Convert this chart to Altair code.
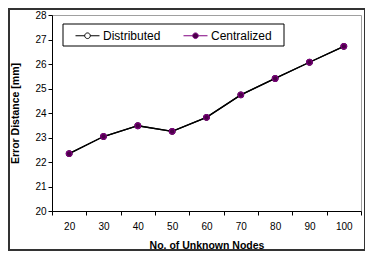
import altair as alt
import pandas as pd

nodes = [20, 30, 40, 50, 60, 70, 80, 90, 100]
distributed = [22.34, 23.04, 23.48, 23.25, 23.82, 24.74, 25.41, 26.07, 26.72]
centralized = [22.34, 23.04, 23.48, 23.25, 23.82, 24.74, 25.41, 26.07, 26.72]
series = ["Distributed", "Centralized"]

rows = []
for n, d in zip(nodes, distributed):
    rows.append({"nodes": n, "value": d, "series": "Distributed"})
for n, c in zip(nodes, centralized):
    rows.append({"nodes": n, "value": c, "series": "Centralized"})
df = pd.DataFrame(rows)

FONT = "Liberation Sans"
sym = ("M-0.5,0L0.075,0A0.175,0.175 0 1 1 0.425,0A0.175,0.175 0 1 1 0.075,0"
       "M0.425,0L1,0")

x_enc = alt.X("nodes:O", scale=alt.Scale(type="band", paddingInner=0, paddingOuter=0),
              axis=alt.Axis(title="No. of Unknown Nodes", labelAngle=0, tickBand="extent",
                            tickSize=4, labelPadding=6, titlePadding=9))
y_enc = alt.Y("value:Q", scale=alt.Scale(domain=[20, 28], nice=False, zero=False),
              axis=alt.Axis(title="Error Distance [mm]", values=list(range(20, 29)),
                            tickSize=4, labelPadding=2, titlePadding=14, grid=False))

base = alt.Chart(df)

lines = base.mark_line(color="black", strokeWidth=1.3).encode(
    x=x_enc, y=y_enc, detail="series:N")

points = base.mark_point(filled=True, size=32, strokeWidth=1.2, opacity=1).encode(
    x=x_enc, y=y_enc,
    fill=alt.Fill("series:N", scale=alt.Scale(domain=series, range=["white", "#4a0048"]),
                  sort=series,
                  legend=alt.Legend(title=None, orient="none", legendX=15, legendY=4,
                                    direction="horizontal", symbolType=sym, symbolSize=1024,
                                    symbolStrokeColor="black", symbolStrokeWidth=1,
                                    labelFont=FONT, labelFontSize=12, labelColor="black",
                                    padding=0, columnPadding=14, labelOffset=3)),
    stroke=alt.Stroke("series:N", scale=alt.Scale(domain=series, range=["black", "#800080"]),
                      legend=None),
)

frame = alt.Chart(alt.Data(values=[{}])).mark_rect(
    filled=False, stroke="#333333", strokeWidth=2).encode(
    x=alt.value(-43), x2=alt.value(313), y=alt.value(-6), y2=alt.value(235))

legend_box = alt.Chart(alt.Data(values=[{}])).mark_rect(
    fill="white", stroke="black", strokeWidth=1).encode(
    x=alt.value(11), x2=alt.value(232), y=alt.value(9), y2=alt.value(31))

chart = alt.layer(frame, legend_box, lines, points).properties(
    width=309, height=196,
    padding={"left": 44, "top": 7, "right": 4, "bottom": 40},
    autosize=alt.AutoSizeParams(type="none"),
).configure_view(stroke="#a0a0a0", strokeWidth=1).configure_axis(
    domainColor="black", tickColor="black", labelFont=FONT, labelFontSize=10,
    labelColor="black", titleFont=FONT, titleFontSize=10.5, titleFontWeight="bold",
    titleColor="black")

chart.save("out.html", embed_options={"renderer": "svg", "actions": False})
